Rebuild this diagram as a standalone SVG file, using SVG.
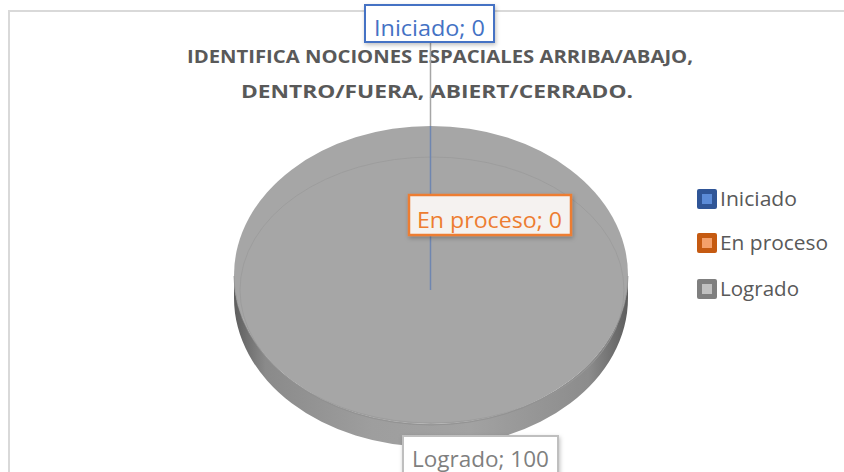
<svg xmlns="http://www.w3.org/2000/svg" width="844" height="472" viewBox="0 0 844 472">
  <style>
    .title { font-family: "Open Sans", "Liberation Sans", sans-serif; font-weight: bold; font-size: 18px; fill: #595959; }
    .lbl { font-family: "Open Sans", "Liberation Sans", sans-serif; font-size: 21px; }
    .leg { font-family: "Open Sans", "Liberation Sans", sans-serif; font-size: 20px; fill: #595959; }
  </style>
  <defs>
    <linearGradient id="side" x1="0" y1="0" x2="1" y2="0">
      <stop offset="0" stop-color="#5e5e5e"/>
      <stop offset="0.08" stop-color="#8a8a8a"/>
      <stop offset="0.35" stop-color="#9e9e9e"/>
      <stop offset="0.6" stop-color="#a2a2a2"/>
      <stop offset="0.9" stop-color="#8c8c8c"/>
      <stop offset="1" stop-color="#5e5e5e"/>
    </linearGradient>
    <filter id="sh" x="-20%" y="-30%" width="140%" height="170%">
      <feDropShadow dx="1" dy="2" stdDeviation="2" flood-color="#000" flood-opacity="0.25"/>
    </filter>
  </defs>
  <rect x="0" y="0" width="844" height="472" fill="#ffffff"/>
  <path d="M9,472 L9,11 L844,11" fill="none" stroke="#d9d9d9" stroke-width="2"/>

  <g id="title">
    <text class="title" x="440" y="63" text-anchor="middle" textLength="506" lengthAdjust="spacingAndGlyphs">IDENTIFICA NOCIONES ESPACIALES ARRIBA/ABAJO,</text>
    <text class="title" x="437" y="98" text-anchor="middle" textLength="392" lengthAdjust="spacingAndGlyphs">DENTRO/FUERA, ABIERT/CERRADO.</text>
  </g>

  <g id="pie">
    <path d="M234,275 L234,298 A197,149 0 0 0 628,298 L628,275 A197,149 0 0 1 234,275 Z" fill="url(#side)"/>
    <ellipse cx="431" cy="275" rx="197" ry="149" fill="#a6a6a6"/>
    <ellipse cx="432" cy="290" rx="192" ry="133" fill="none" stroke="#9a9a9a" stroke-width="0.8"/>
    <path d="M234,276 A197,149 0 0 0 628,276" fill="none" stroke="#8f8f8f" stroke-width="0.8"/>
  </g>

  <g id="connectors">
    <line x1="430.5" y1="42" x2="430.5" y2="126" stroke="#a6a6a6" stroke-width="1.5"/>
    <line x1="430.5" y1="126" x2="430.5" y2="290" stroke="#6f86b0" stroke-width="1.5"/>
  </g>

  <g id="label-iniciado">
    <rect x="365" y="5" width="129" height="37" fill="#ffffff" stroke="#4472c4" stroke-width="2" filter="url(#sh)"/>
    <text class="lbl" x="374" y="36" textLength="111" lengthAdjust="spacingAndGlyphs" fill="#4472c4">Iniciado; 0</text>
  </g>

  <g id="label-enproceso">
    <rect x="409" y="195" width="162" height="40" fill="#f5f2f0" stroke="#ed7d31" stroke-width="2.5" filter="url(#sh)"/>
    <text class="lbl" x="417" y="228" textLength="145" lengthAdjust="spacingAndGlyphs" fill="#ed7d31">En proceso; 0</text>
  </g>

  <g id="label-logrado">
    <rect x="403" y="436" width="155" height="40" fill="#ffffff" stroke="#bfbfbf" stroke-width="2" filter="url(#sh)"/>
    <text class="lbl" x="412" y="467" textLength="137" lengthAdjust="spacingAndGlyphs" fill="#7f7f7f">Logrado; 100</text>
  </g>

  <g id="legend">
    <g id="leg-iniciado">
      <rect x="697" y="189" width="20" height="20" rx="2" fill="#2f5597"/>
      <rect x="702" y="194" width="10" height="10" fill="#5b8bd8"/>
      <text class="leg" x="720" y="206" textLength="77" lengthAdjust="spacingAndGlyphs">Iniciado</text>
    </g>
    <g id="leg-enproceso">
      <rect x="697" y="233" width="20" height="20" rx="2" fill="#c55a11"/>
      <rect x="702" y="238" width="10" height="10" fill="#f4a06a"/>
      <text class="leg" x="720" y="250" textLength="108" lengthAdjust="spacingAndGlyphs">En proceso</text>
    </g>
    <g id="leg-logrado">
      <rect x="697" y="279" width="20" height="20" rx="2" fill="#7f7f7f"/>
      <rect x="702" y="284" width="10" height="10" fill="#c0c0c0"/>
      <text class="leg" x="720" y="296" textLength="79" lengthAdjust="spacingAndGlyphs">Logrado</text>
    </g>
  </g>
</svg>
